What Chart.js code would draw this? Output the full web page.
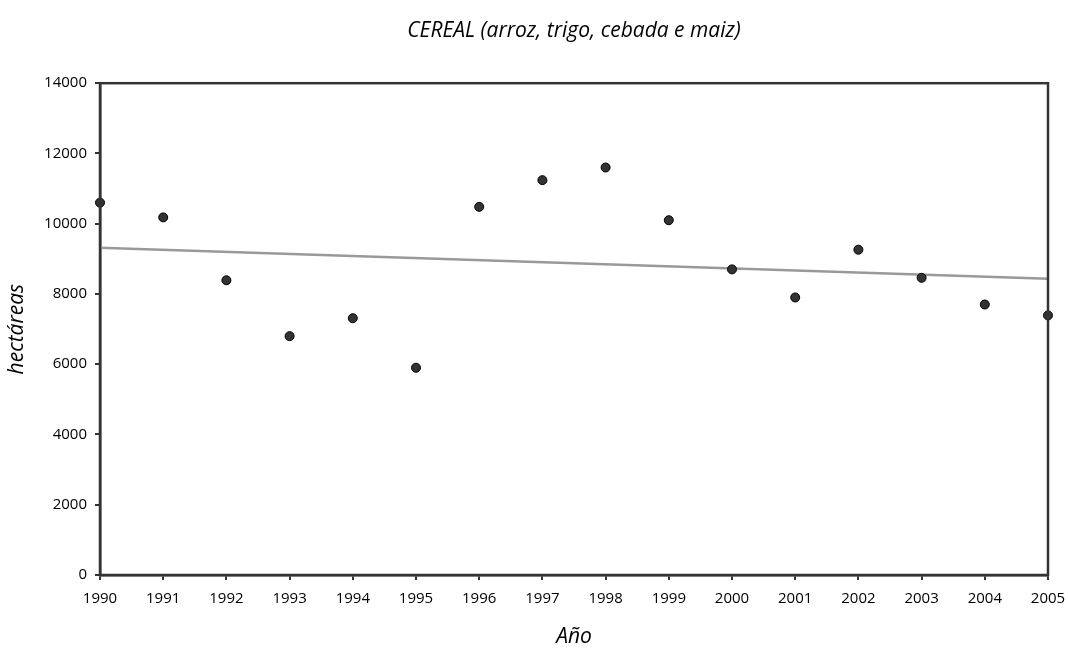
<!DOCTYPE html>
<html>
<head>
<meta charset="utf-8">
<script src="https://cdn.jsdelivr.net/npm/chart.js@4.4.0/dist/chart.umd.min.js"></script>
<style>
  html, body { margin: 0; padding: 0; background: #fff; }
  #wrap { width: 1068px; height: 648px; }
</style>
</head>
<body>
<div id="wrap"><canvas id="scatterChart"></canvas></div>
<script>
// años y hectáreas
var years = [1990, 1991, 1992, 1993, 1994, 1995, 1996, 1997, 1998, 1999, 2000, 2001, 2002, 2003, 2004, 2005];
var hectareas = [10600, 10180, 8390, 6800, 7310, 5900, 10480, 11240, 11600, 10100, 8700, 7900, 9260, 8460, 7700, 7390];
var yTicks = [0, 2000, 4000, 6000, 8000, 10000, 12000, 14000];

var fontFam = "'Open Sans', sans-serif";
var axisColor = '#333333';

// linea de tendencia (minimos cuadrados, como la de Excel)
var n = years.length, sx = 0, sy = 0, sxy = 0, sxx = 0;
for (var i = 0; i < n; i++) {
  sx += years[i]; sy += hectareas[i];
  sxy += years[i] * hectareas[i]; sxx += years[i] * years[i];
}
var slope = (n * sxy - sx * sy) / (n * sxx - sx * sx);
var icpt = (sy - slope * sx) / n;
var trend = [years[0], years[n - 1]].map(function (x) { return { x: x, y: icpt + slope * x }; });

var points = years.map(function (y, i) { return { x: y, y: hectareas[i] }; });

// marco alrededor del area del grafico
var boxPlugin = {
  id: 'box',
  afterDatasetsDraw: function (chart) {
    var a = chart.chartArea, ctx = chart.ctx;
    ctx.save();
    ctx.strokeStyle = axisColor;
    ctx.lineWidth = 2.5;
    ctx.strokeRect(a.left, a.top, a.right - a.left, a.bottom - a.top);
    ctx.restore();
  }
};

var ctx = document.getElementById('scatterChart').getContext('2d');
new Chart(ctx, {
  type: 'scatter',
  data: {
    datasets: [{
      label: 'tendencia',
      type: 'line',
      data: trend,
      borderColor: '#999999',
      borderWidth: 2.5,
      pointRadius: 0,
      fill: false,
      order: 2
    }, {
      label: 'hectáreas',
      data: points,
      backgroundColor: '#333333',
      borderColor: '#000000',
      borderWidth: 1,
      pointRadius: 4.5,
      order: 1
    }]
  },
  options: {
    responsive: true,
    maintainAspectRatio: false,
    animation: false,
    clip: false,
    layout: { padding: { left: 0, right: 20, top: 0, bottom: 0 } },
    plugins: {
      legend: { display: false },
      tooltip: { enabled: false },
      title: {
        display: true,
        fullSize: false,
        text: 'CEREAL (arroz, trigo, cebada e maiz)',
        color: '#000',
        font: { family: fontFam, size: 21, style: 'italic', weight: 'normal', lineHeight: 1.2 },
        padding: { top: 18, bottom: 40 }
      }
    },
    scales: {
      x: {
        type: 'linear',
        min: years[0],
        max: years[n - 1],
        afterBuildTicks: function (axis) { axis.ticks = years.map(function (v) { return { value: v }; }); },
        afterFit: function (axis) { axis.height = 73; axis.paddingRight = 0; },
        ticks: {
          color: '#000',
          font: { family: fontFam, size: 15 },
          padding: 10,
          maxRotation: 0,
          autoSkip: false,
          callback: function (v) { return String(v); }
        },
        grid: { drawOnChartArea: false, tickLength: 5, color: axisColor, lineWidth: 2 },
        border: { display: true, color: axisColor, width: 2.5 },
        title: {
          display: true,
          text: 'Año',
          color: '#000',
          font: { family: fontFam, size: 21, style: 'italic', lineHeight: 1 },
          padding: 0
        }
      },
      y: {
        min: 0,
        max: 14000,
        afterBuildTicks: function (axis) { axis.ticks = yTicks.map(function (v) { return { value: v }; }); },
        afterFit: function (axis) { axis.width = 100; },
        ticks: {
          color: '#000',
          font: { family: fontFam, size: 15 },
          padding: 8,
          callback: function (v) { return String(v); }
        },
        grid: { drawOnChartArea: false, tickLength: 5, color: axisColor, lineWidth: 2 },
        border: { display: true, color: axisColor, width: 2.5 },
        title: {
          display: true,
          text: 'hectáreas',
          color: '#000',
          font: { family: fontFam, size: 21, style: 'italic', lineHeight: 1.2 },
          padding: { top: 4, bottom: 0 }
        }
      }
    }
  },
  plugins: [boxPlugin]
});
</script>
</body>
</html>
